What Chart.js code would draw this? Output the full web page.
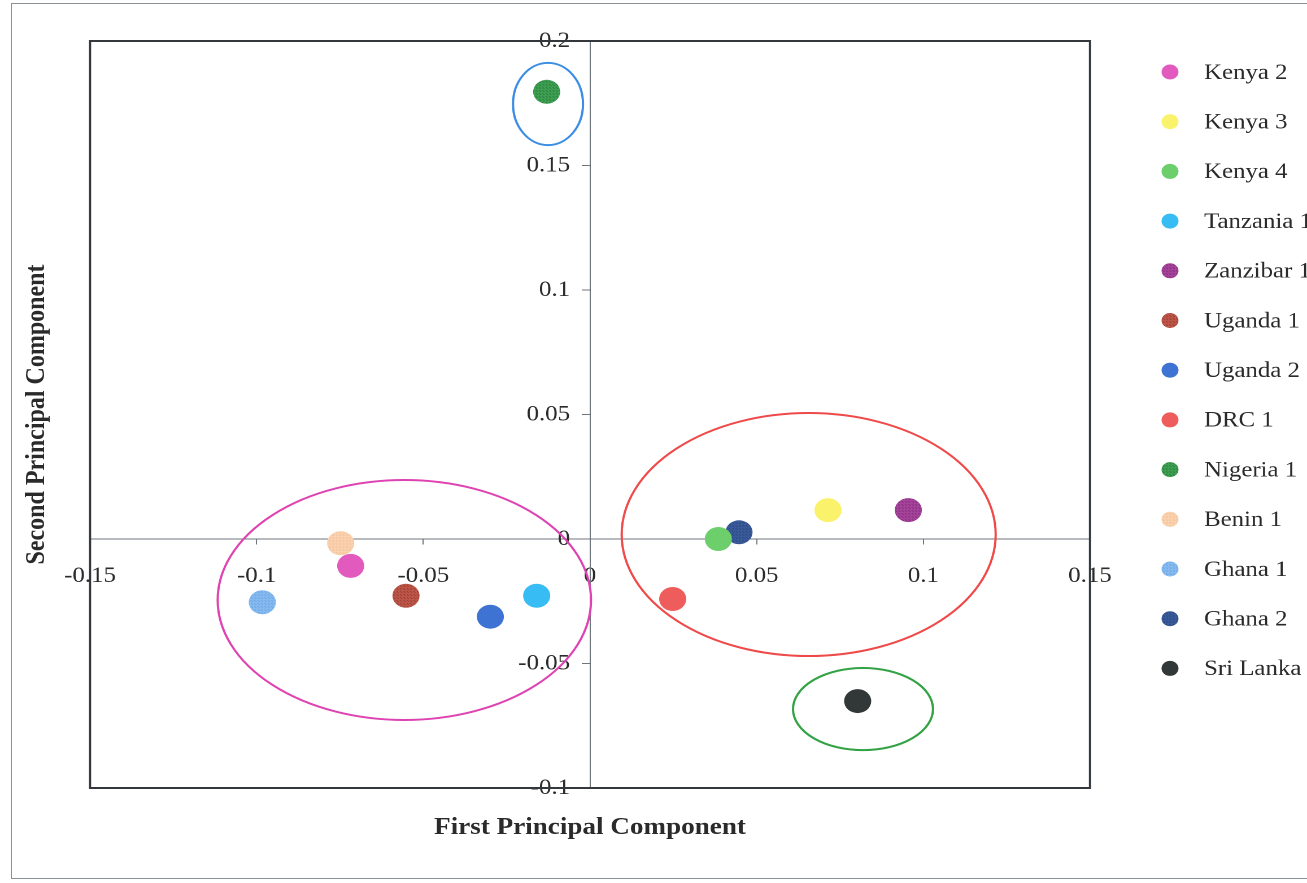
<!DOCTYPE html>
<html>
<head>
<meta charset="utf-8">
<title>Principal component analysis</title>
<script src="https://cdn.jsdelivr.net/npm/chart.js@4.4.1/dist/chart.umd.min.js"></script>
<style>
  html, body { margin: 0; padding: 0; background: #ffffff; overflow: hidden; }
  #wrap { position: relative; width: 1307px; height: 883px; }
  #frame { position: absolute; left: 11px; top: 3px; width: 1320px; height: 876px;
           border: 1px solid #8c9196; box-sizing: border-box; pointer-events: none; }
  #c { position: absolute; left: 0; top: 0; }
</style>
</head>
<body>
<div id="wrap">
  <canvas id="c"></canvas>
  <div id="frame"></div>
</div>
<script>
// Populations and their scores on the first two principal components
const populations = ['Kenya 2', 'Kenya 3', 'Kenya 4', 'Tanzania 1', 'Zanzibar 1', 'Uganda 1',
                     'Uganda 2', 'DRC 1', 'Nigeria 1', 'Benin 1', 'Ghana 1', 'Ghana 2', 'Sri Lanka'];
const pc1 = [-0.0718, 0.0714, 0.0385, -0.0160, 0.0955, -0.0552, -0.0299, 0.0248, -0.0130, -0.0748, -0.0983, 0.0447, 0.0803];
const pc2 = [-0.0108, 0.0116, 0.0000, -0.0228, 0.0116, -0.0228, -0.0312, -0.0241, 0.1796, -0.0017, -0.0254, 0.0027, -0.0651];

// Marker colours; a second colour gives the marker a stippled fill
const markerColors  = ['#e35abf', '#fbf26c', '#6dcf6b', '#37bdf3', '#a9479f', '#c25a4c',
                       '#3e73d4', '#ef5c5c', '#40a353', '#fbd5b3', '#88bdf1', '#3b5c9c', '#323838'];
const stippleColors = [null, null, null, null, '#7c2372', '#8c3229',
                       null, null, '#24703b', '#f2b68c', '#659ddf', '#26437a', null];

// Cluster outlines (centre and semi-axes in component units)
const clusterCx     = [-0.0126, -0.0557, 0.0656, 0.0819];
const clusterCy     = [0.1747, -0.0245, 0.0018, -0.0683];
const clusterRx     = [0.0105, 0.0560, 0.0561, 0.0210];
const clusterRy     = [0.0165, 0.0482, 0.0488, 0.0165];
const clusterColors = ['#3b8de4', '#de43b2', '#ef4a4a', '#33a245'];

// Axis ticks
const xTickValues = [-0.15, -0.1, -0.05, 0, 0.05, 0.1, 0.15];
const xTickLabels = ['-0.15', '-0.1', '-0.05', '0', '0.05', '0.1', '0.15'];
const yTickValues = [-0.1, -0.05, 0, 0.05, 0.1, 0.15, 0.2];
const yTickLabels = ['-0.1', '-0.05', '0', '0.05', '0.1', '0.15', '0.2'];

const xTitle = 'First Principal Component';
const yTitle = 'Second Principal Component';

// The figure is drawn on a narrower canvas and widened with CSS
const W = 1157, H = 883;
const S = 1307 / W;
const L = px => px / S;

const SERIF = "'Liberation Serif', 'Times New Roman', serif";

function fillFor(i) {
  const base = markerColors[i];
  const dot = stippleColors[i];
  if (!dot) return base;
  const t = document.createElement('canvas');
  t.width = 3; t.height = 3;
  const g = t.getContext('2d');
  g.fillStyle = base; g.fillRect(0, 0, 3, 3);
  g.fillStyle = dot; g.fillRect(1, 1, 1, 1); g.fillRect(0, 0, 1, 1);
  return g.createPattern(t, 'repeat');
}
const fills = populations.map((_, i) => fillFor(i));

function labelFor(values, labels, v) {
  const k = values.findIndex(t => Math.abs(t - v) < 1e-9);
  return k < 0 ? '' : labels[k];
}

const datasets = populations.map((name, i) => ({
  label: name,
  data: [{ x: pc1[i], y: pc2[i] }],
  backgroundColor: fills[i],
  borderWidth: 0,
  pointStyle: 'circle',
  pointRadius: 12,
  pointHoverRadius: 12
}));

// The vertical axis sits at x = 0; keep its labels clear of the tick marks
const Y_LABEL_GAP = L(20);
const yLabelGap = {
  id: 'yLabelGap',
  beforeDraw(chart) {
    const items = chart.scales.y.getLabelItems();
    if (items._gapApplied) return;
    items.forEach(it => { it.options.translation[0] -= Y_LABEL_GAP; });
    items._gapApplied = true;
  }
};

// Outline box around the plotting area
const plotFrame = {
  id: 'plotFrame',
  beforeDatasetsDraw(chart) {
    const { ctx, chartArea: a } = chart;
    ctx.save();
    ctx.strokeStyle = '#34383c';
    ctx.lineWidth = 2;
    ctx.strokeRect(a.left, a.top, a.right - a.left, a.bottom - a.top);
    ctx.restore();
  }
};

// Ellipses grouping the clusters
const clusterOutlines = {
  id: 'clusterOutlines',
  afterDatasetsDraw(chart) {
    const { ctx, scales: { x, y } } = chart;
    ctx.save();
    ctx.lineWidth = 2;
    clusterCx.forEach((cx, i) => {
      const px = x.getPixelForValue(cx);
      const py = y.getPixelForValue(clusterCy[i]);
      const rx = Math.abs(x.getPixelForValue(cx + clusterRx[i]) - px);
      const ry = Math.abs(y.getPixelForValue(clusterCy[i] + clusterRy[i]) - py);
      ctx.strokeStyle = clusterColors[i];
      ctx.beginPath();
      ctx.ellipse(px, py, rx, ry, 0, 0, Math.PI * 2);
      ctx.stroke();
    });
    ctx.restore();
  }
};

// Key on the right listing each population
const sideKey = {
  id: 'sideKey',
  afterDraw(chart) {
    const { ctx } = chart;
    const markX = L(1170), textX = L(1204);
    const top = 72, step = 49.7;
    ctx.save();
    ctx.font = '22px ' + SERIF;
    ctx.textBaseline = 'middle';
    ctx.textAlign = 'left';
    chart.data.datasets.forEach((ds, i) => {
      const yy = top + i * step;
      ctx.fillStyle = ds.backgroundColor;
      ctx.beginPath();
      ctx.arc(markX, yy, 7.5, 0, Math.PI * 2);
      ctx.fill();
      ctx.fillStyle = '#2a2a2a';
      ctx.fillText(ds.label, textX, yy + 1);
    });
    ctx.restore();
  }
};

const canvas = document.getElementById('c');
canvas.width = W;
canvas.height = H;
canvas.style.width = '1307px';
canvas.style.height = '883px';

const axisColor = '#6e767e';
const tickFont = { family: SERIF, size: 22 };

new Chart(canvas, {
  type: 'scatter',
  data: { datasets },
  plugins: [yLabelGap, plotFrame, clusterOutlines, sideKey],
  options: {
    responsive: false,
    animation: false,
    devicePixelRatio: 2,
    layout: { padding: { left: 0, top: 41, right: W - L(1090), bottom: 0 } },
    scales: {
      x: {
        type: 'linear',
        min: -0.15,
        max: 0.15,
        position: { y: 0 },
        afterBuildTicks: s => { s.ticks = xTickValues.map(v => ({ value: v })); },
        ticks: {
          font: tickFont, color: '#2b2b2b', padding: 19, maxRotation: 0, autoSkip: false,
          callback: v => labelFor(xTickValues, xTickLabels, v)
        },
        grid: { drawOnChartArea: false, drawTicks: true, tickLength: 5, color: axisColor },
        border: { display: true, color: axisColor, width: 1 }
      },
      y: {
        type: 'linear',
        min: -0.1,
        max: 0.2,
        position: { x: 0 },
        afterBuildTicks: s => { s.ticks = yTickValues.map(v => ({ value: v })); },
        ticks: {
          font: tickFont, color: '#2b2b2b', padding: 12, autoSkip: false,
          callback: v => labelFor(yTickValues, yTickLabels, v)
        },
        grid: { drawOnChartArea: false, drawTicks: true, tickLength: 7, color: axisColor },
        border: { display: true, color: axisColor, width: 1 }
      }
    },
    plugins: {
      legend: { display: false },
      tooltip: { enabled: false },
      title: {
        display: true,
        text: xTitle,
        position: 'bottom',
        fullSize: false,
        color: '#2a2a2a',
        font: { family: SERIF, size: 24, weight: 'bold', lineHeight: 1.2 },
        padding: { top: 25.6, bottom: 40.6 }
      },
      subtitle: {
        display: true,
        text: yTitle,
        position: 'left',
        fullSize: false,
        color: '#2a2a2a',
        font: { family: SERIF, size: 24, weight: 'bold', lineHeight: 1.2 },
        padding: { top: 18.3, bottom: 79.67 - 18.3 - 28.8 }
      }
    }
  }
});
</script>
</body>
</html>
